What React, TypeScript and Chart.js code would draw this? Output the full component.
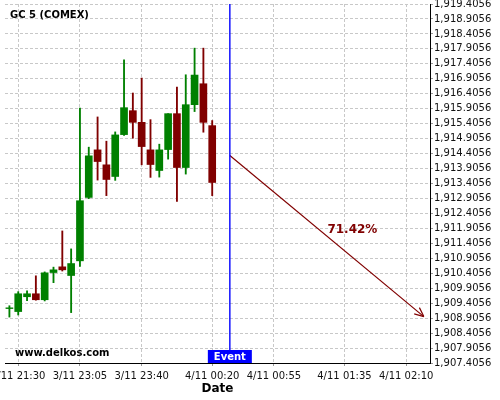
import React, { useEffect, useRef } from "react";
import { Chart, registerables } from "chart.js";

Chart.register(...registerables);

// ---- data ----
const xTickIndex = [1, 8, 15, 23, 30, 38, 45];
const xTickLabels = ["3/11 21:30", "3/11 23:05", "3/11 23:40", "4/11 00:20", "4/11 00:55", "4/11 01:35", "4/11 02:10"];

const yTickValues = [
  1907.4056, 1907.9056, 1908.4056, 1908.9056, 1909.4056, 1909.9056, 1910.4056, 1910.9056,
  1911.4056, 1911.9056, 1912.4056, 1912.9056, 1913.4056, 1913.9056, 1914.4056, 1914.9056,
  1915.4056, 1915.9056, 1916.4056, 1916.9056, 1917.4056, 1917.9056, 1918.4056, 1918.9056,
  1919.4056,
];

const opens = [
  1909.225, 1909.125, 1909.62, 1909.72, 1909.52, 1910.43, 1910.62, 1910.33,
  1910.82, 1912.94, 1914.53, 1914.03, 1913.64, 1915.04, 1915.84, 1915.45,
  1914.53, 1913.84, 1914.54, 1915.74, 1913.94, 1916.04, 1916.74, 1915.34,
];
const highs = [
  1909.32, 1909.79, 1909.82, 1910.32, 1910.45, 1910.61, 1911.82, 1911.22,
  1915.93, 1914.62, 1915.63, 1914.82, 1915.13, 1917.54, 1916.43, 1916.93,
  1915.54, 1914.72, 1915.74, 1916.63, 1917.04, 1917.93, 1917.93, 1915.51,
];
const lows = [
  1908.94, 1909.01, 1909.49, 1909.505, 1909.48, 1910.09, 1910.48, 1909.09,
  1910.63, 1912.9, 1913.52, 1913.0, 1913.51, 1915.01, 1914.92, 1914.03,
  1913.61, 1913.62, 1914.22, 1912.81, 1913.72, 1915.81, 1915.12, 1913.0,
];
const closes = [
  1909.25, 1909.72, 1909.72, 1909.52, 1910.42, 1910.52, 1910.52, 1910.73,
  1912.83, 1914.33, 1914.14, 1913.54, 1915.03, 1915.94, 1915.45, 1914.64,
  1914.04, 1914.53, 1915.74, 1913.94, 1916.04, 1917.03, 1915.45, 1913.44,
];

const eventIndex = 25;
const arrowFrom = [25, 1914.34];
const arrowTo = [47, 1908.957];
const probabilityText = "71.42%";
const probabilityAt = [38.9, 1911.86];
const titleText = "GC 5 (COMEX)";
const watermarkText = "www.delkos.com";
const eventText = "Event";

const X_MIN = -0.5;
const X_MAX = 47.7;

const UP = "#008000";
const DOWN = "#800000";
const FONT = "'DejaVu Sans', sans-serif";

const overlayPlugin = {
  id: "overlay",
  afterDatasetsDraw(chart: any) {
    const { ctx, chartArea, scales } = chart;
    const x = scales.x;
    const y = scales.y;
    ctx.save();
    // arrow head
    const x1 = x.getPixelForValue(arrowFrom[0]);
    const y1 = y.getPixelForValue(arrowFrom[1]);
    const x2 = x.getPixelForValue(arrowTo[0]);
    const y2 = y.getPixelForValue(arrowTo[1]);
    const ang = Math.atan2(y2 - y1, x2 - x1);
    ctx.strokeStyle = DOWN;
    ctx.lineWidth = 1.2;
    ctx.beginPath();
    for (const s of [-1, 1]) {
      ctx.moveTo(x2, y2);
      ctx.lineTo(x2 - 10 * Math.cos(ang + s * 0.42), y2 - 10 * Math.sin(ang + s * 0.42));
    }
    ctx.stroke();

    // probability text
    ctx.fillStyle = DOWN;
    ctx.font = `bold 12px ${FONT}`;
    ctx.textAlign = "center";
    ctx.textBaseline = "middle";
    ctx.fillText(probabilityText, x.getPixelForValue(probabilityAt[0]), y.getPixelForValue(probabilityAt[1]));

    // title and watermark
    ctx.fillStyle = "#000";
    ctx.font = `bold 10px ${FONT}`;
    ctx.textAlign = "left";
    ctx.fillText(titleText, chartArea.left + 5, chartArea.top + 11.5);
    ctx.fillText(watermarkText, chartArea.left + 10, chartArea.bottom - 9.5);

    // event label
    const ex = x.getPixelForValue(eventIndex);
    ctx.fillStyle = "#0000ff";
    ctx.fillRect(ex - 22, chartArea.bottom - 13, 44, 13);
    ctx.fillStyle = "#fff";
    ctx.textAlign = "center";
    ctx.fillText(eventText, ex, chartArea.bottom - 6);
    ctx.restore();
  },
};

export default function App() {
  const canvasRef = useRef<HTMLCanvasElement | null>(null);

  useEffect(() => {
    if (!canvasRef.current) return;
    const colors = opens.map((o, i) => (closes[i] >= o ? UP : DOWN));
    const chart = new Chart(canvasRef.current, {
      type: "bar",
      data: {
        datasets: [
          {
            type: "line",
            data: [
              { x: eventIndex, y: yTickValues[0] },
              { x: eventIndex, y: yTickValues[yTickValues.length - 1] },
            ],
            borderColor: "#0000ff",
            borderWidth: 1.4,
            pointRadius: 0,
            order: 0,
          } as any,
          {
            type: "line",
            data: [
              { x: arrowFrom[0], y: arrowFrom[1] },
              { x: arrowTo[0], y: arrowTo[1] },
            ],
            borderColor: DOWN,
            borderWidth: 1.2,
            pointRadius: 0,
            order: 0,
          } as any,
          {
            type: "bar",
            data: opens.map((o, i) => ({ x: i, y: [o, closes[i]] })),
            backgroundColor: colors,
            barThickness: 7,
            grouped: false,
            order: 1,
          } as any,
          {
            type: "bar",
            data: opens.map((_, i) => ({ x: i, y: [lows[i], highs[i]] })),
            backgroundColor: colors,
            barThickness: 1.2,
            grouped: false,
            order: 2,
          } as any,
        ],
      },
      options: {
        animation: false,
        responsive: false,
        layout: { padding: { left: 5, top: 4, right: 0, bottom: 0 } },
        plugins: { legend: { display: false }, tooltip: { enabled: false } },
        scales: {
          x: {
            type: "linear",
            min: X_MIN,
            max: X_MAX,
            bounds: "data",
            offset: false,
            grid: { color: "#c8c8c8", tickColor: "#999", tickLength: 3, offset: false },
            border: { color: "#000", dash: [3, 2] },
            ticks: {
              autoSkip: false,
              maxRotation: 0,
              padding: 4,
              color: "#111",
              font: { family: FONT, size: 10 },
              callback: (_v: any, i: number) => xTickLabels[i],
            },
            title: {
              display: true,
              text: "Date",
              color: "#000",
              font: { family: FONT, size: 12, weight: "bold" },
              padding: { top: 0, bottom: 4 },
            },
            afterBuildTicks: (s: any) => {
              s.ticks = xTickIndex.map((v) => ({ value: v }));
            },
            afterFit: (s: any) => {
              s.height = 37;
              s.paddingLeft = 0;
              s.paddingRight = 0;
            },
          },
          y: {
            type: "linear",
            position: "right",
            min: yTickValues[0],
            max: yTickValues[yTickValues.length - 1],
            bounds: "data",
            grid: { color: "#c8c8c8", tickColor: "#999", tickLength: 3 },
            border: { color: "#000", dash: [3, 2] },
            ticks: {
              autoSkip: false,
              padding: 1,
              color: "#111",
              font: { family: FONT, size: 10 },
              callback: (v: any) =>
                Number(v).toLocaleString("en-US", { minimumFractionDigits: 4, maximumFractionDigits: 4 }),
            },
            afterBuildTicks: (s: any) => {
              s.ticks = yTickValues.map((v) => ({ value: v }));
            },
            afterFit: (s: any) => {
              s.width = 70;
              s.paddingTop = 0;
              s.paddingBottom = 0;
            },
          },
        },
      } as any,
      plugins: [overlayPlugin],
    });
    return () => chart.destroy();
  }, []);

  return (
    <div style={{ position: "absolute", left: 0, top: 0, width: 500, height: 400, background: "#fff" }}>
      <canvas ref={canvasRef} width={500} height={400} />
    </div>
  );
}
